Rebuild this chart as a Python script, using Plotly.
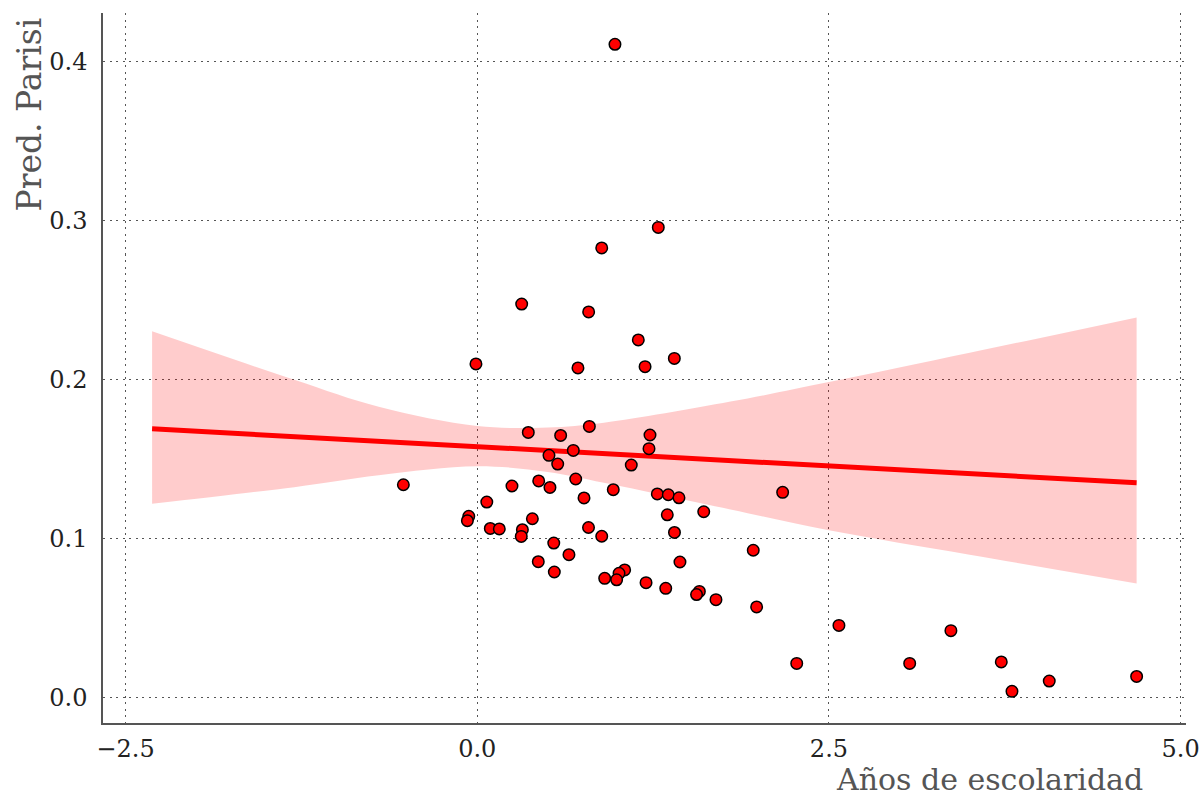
import plotly.graph_objects as go

# Years of schooling (centred) vs. predicted Parisi score
escolaridad = [
    0.979, 1.287, 0.885, 0.316, 0.792, 1.145, 1.401, 1.193, 0.716, -0.009,
    0.797, 0.363, 0.593, 1.228, 1.221, 0.683, 0.510, 0.572, 1.095, -0.525,
    0.437, 0.700, 0.247, 0.517, 0.967, 2.171, 1.280, 1.358, 1.434, 0.759,
    0.068, 1.610, 1.351, -0.060, 0.392, -0.070, 0.093, 0.157, 0.791, 0.321,
    1.402, 0.313, 0.885, 0.544, 1.962, 0.652, 1.441, 0.434, 1.048, 0.548,
    1.008, 0.906, 0.991, 1.200, 1.340, 1.579, 1.559, 1.697, 1.986, 2.571,
    3.367, 2.271, 3.074, 3.725, 3.801, 4.066, 4.687,
]
pred_parisi = [
    0.4111, 0.2959, 0.2830, 0.2477, 0.2427, 0.2251, 0.2135, 0.2083, 0.2075, 0.2100,
    0.1707, 0.1669, 0.1650, 0.1653, 0.1567, 0.1556, 0.1525, 0.1470, 0.1464, 0.1340,
    0.1364, 0.1376, 0.1332, 0.1323, 0.1309, 0.1292, 0.1282, 0.1277, 0.1258, 0.1257,
    0.1231, 0.1170, 0.1151, 0.1141, 0.1126, 0.1114, 0.1065, 0.1062, 0.1071, 0.1057,
    0.1040, 0.1015, 0.1016, 0.0973, 0.0928, 0.0900, 0.0854, 0.0856, 0.0804, 0.0791,
    0.0783, 0.0751, 0.0742, 0.0724, 0.0688, 0.0669, 0.0649, 0.0617, 0.0571, 0.0455,
    0.0422, 0.0216, 0.0216, 0.0225, 0.0040, 0.0105, 0.0134,
]

# Fitted regression line
fit_x = [-2.311, 4.687]
fit_y = [0.1692, 0.1352]

# Confidence band of the fit
band_x = [-2.311, -1.3, -0.7, 0.0, 0.5, 0.9, 1.8, 2.5, 3.5, 4.687]
band_hi = [0.2305, 0.2000, 0.1830, 0.1709, 0.1700, 0.1730, 0.1863, 0.1986, 0.2170, 0.2393]
band_lo = [0.1220, 0.1325, 0.1400, 0.1457, 0.1420, 0.1352, 0.1184, 0.1054, 0.0900, 0.0719]

x_ticks = [-2.5, 0.0, 2.5, 5.0]
y_ticks = [0.0, 0.1, 0.2, 0.3, 0.4]

FONT = "DejaVu Serif"
GRID = "#555555"

fig = go.Figure()

fig.add_trace(go.Scatter(
    x=band_x, y=band_lo, mode="lines", line=dict(width=0, shape="spline"),
    hoverinfo="skip", showlegend=False,
))
fig.add_trace(go.Scatter(
    x=band_x, y=band_hi, mode="lines", line=dict(width=0, shape="spline"),
    fill="tonexty", fillcolor="rgba(255,0,0,0.2)",
    hoverinfo="skip", showlegend=False,
))
fig.add_trace(go.Scatter(
    x=fit_x, y=fit_y, mode="lines", line=dict(color="#ff0000", width=5),
    showlegend=False,
))
fig.add_trace(go.Scatter(
    x=escolaridad, y=pred_parisi, mode="markers",
    marker=dict(color="#ff0000", size=11.5, line=dict(color="black", width=1.5)),
    showlegend=False,
))

axis_common = dict(
    showline=True, linecolor="#555555", linewidth=1.5, mirror=False,
    showgrid=True, gridcolor=GRID, gridwidth=1.2, griddash="2px,4.5px",
    zeroline=False, ticks="", automargin=False,
    tickfont=dict(family=FONT, size=24, color="#222222"),
)

fig.update_xaxes(
    range=[-2.660, 5.038], tickvals=x_ticks, ticklabelstandoff=3,
    ticktext=["\u22122.5", "0.0", "2.5", "5.0"], **axis_common,
)
fig.update_yaxes(
    range=[-0.0159, 0.4308], tickvals=y_ticks, ticklabelstandoff=9,
    ticktext=["0.0", "0.1", "0.2", "0.3", "0.4"], **axis_common,
)

fig.add_annotation(
    text="Años de escolaridad", xref="paper", yref="paper",
    x=0.962, y=-0.0795, xanchor="right", yanchor="middle", showarrow=False,
    font=dict(family=FONT, size=30, color="#555555"),
)
fig.add_annotation(
    text="Pred. Parisi", xref="paper", yref="paper",
    x=-0.0674, y=0.857, xanchor="center", yanchor="middle", textangle=-90,
    showarrow=False, font=dict(family=FONT, size=33, color="#555555"),
)

fig.update_layout(
    width=1200, height=796,
    margin=dict(l=103, r=14, t=13, b=73, autoexpand=False),
    paper_bgcolor="white", plot_bgcolor="white",
)

fig.write_html("out.html")
